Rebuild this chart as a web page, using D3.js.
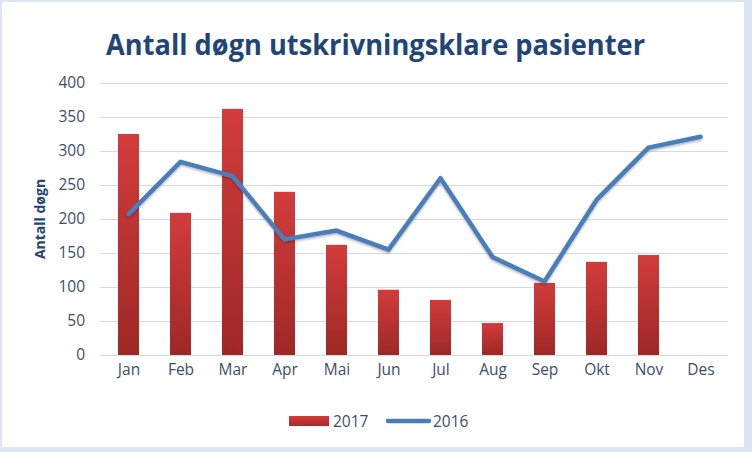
<!DOCTYPE html>
<html><head><meta charset="utf-8">
<script src="https://cdn.jsdelivr.net/npm/d3@7"></script>
<style>
html,body{margin:0;padding:0;background:#dce6f2;}
svg{display:block;}
</style></head>
<body><svg id="c" width="752" height="452"></svg>
<script>
const months = ["Jan","Feb","Mar","Apr","Mai","Jun","Jul","Aug","Sep","Okt","Nov","Des"];
const values2017 = [325,209,362,240,162,96,81,47,106,137,147,null];
const values2016 = [207,284,263,170,183,155,260,144,108,228,305,321];
const yTicks = [0,50,100,150,200,250,300,350,400];
const titleText = "Antall døgn utskrivningsklare pasienter";
const yTitle = "Antall døgn";

const svg = d3.select("#c");
const textCol = "#3a4e6e";
const font = "'Open Sans', 'Noto Sans', sans-serif";

svg.append("rect").attr("x",2).attr("y",2).attr("width",742).attr("height",445).attr("fill","#ffffff");

const defs = svg.append("defs");
const g1 = defs.append("linearGradient").attr("id","barGrad").attr("x1",0).attr("y1",0).attr("x2",0).attr("y2",1);
g1.append("stop").attr("offset","0%").attr("stop-color","#d23c3b");
g1.append("stop").attr("offset","100%").attr("stop-color","#9e2827");
const lg = defs.append("linearGradient").attr("id","legGrad").attr("x1",0).attr("y1",0).attr("x2",0).attr("y2",1);
lg.append("stop").attr("offset","0%").attr("stop-color","#d23c3b");
lg.append("stop").attr("offset","100%").attr("stop-color","#a52a29");
const f = defs.append("filter").attr("id","sh").attr("x","-10%").attr("y","-10%").attr("width","120%").attr("height","130%");
f.append("feDropShadow").attr("dx",0).attr("dy",1.5).attr("stdDeviation",1.2).attr("flood-color","#000").attr("flood-opacity",0.3);

const x = d3.scaleBand().domain(months).range([102.5,726.5]).paddingInner(0.6).paddingOuter(0.3);
const xc = d3.scalePoint().domain(months).range([102.5,726.5]).padding(0.5);
const y = d3.scaleLinear().domain([0,400]).range([355,83]);

// gridlines
svg.append("g").selectAll("line").data(yTicks).join("line")
  .attr("x1",100).attr("x2",728).attr("y1",d=>y(d)+0.5).attr("y2",d=>y(d)+0.5)
  .attr("stroke","#d9d9d9").attr("stroke-width",1);

// y axis labels
const ya = svg.append("g").attr("transform","translate(85,0)")
  .call(d3.axisLeft(y).tickValues(yTicks).tickSize(0).tickPadding(0));
ya.select(".domain").remove();
ya.selectAll("text").attr("font-family",font).attr("font-size",15.5).attr("fill",textCol);

// x axis labels
const xa = svg.append("g").attr("transform","translate(0,364)")
  .call(d3.axisBottom(xc).tickSize(0).tickPadding(0));
xa.select(".domain").remove();
xa.selectAll("text").attr("font-family",font).attr("font-size",15.5).attr("fill",textCol).attr("dy","0.71em");

// bars
svg.append("g").selectAll("rect").data(months.map((m,i)=>({m,v:values2017[i]})).filter(d=>d.v!=null)).join("rect")
  .attr("x",d=>xc(d.m)-10.5).attr("width",21)
  .attr("y",d=>y(d.v)).attr("height",d=>y(0)-y(d.v))
  .attr("fill","url(#barGrad)");

// line
const line = d3.line().x((d,i)=>xc(months[i])).y(d=>y(d));
svg.append("path").datum(values2016).attr("d",line)
  .attr("fill","none").attr("stroke","#4a7ebb").attr("stroke-width",4.5)
  .attr("stroke-linejoin","round").attr("stroke-linecap","round").attr("filter","url(#sh)");

// title
svg.append("text").attr("x",375.5).attr("y",55).attr("text-anchor","middle")
  .attr("font-family",font).attr("font-weight","bold").attr("font-size",28)
  .attr("fill","#1f4677").attr("textLength",539).attr("lengthAdjust","spacingAndGlyphs")
  .text(titleText);

// y title
svg.append("text").attr("transform","translate(45,219) rotate(-90)").attr("text-anchor","middle")
  .attr("font-family",font).attr("font-weight","bold").attr("font-size",14)
  .attr("fill","#1f4677").text(yTitle);

// legend
const leg = svg.append("g");
leg.append("rect").attr("x",289).attr("y",416).attr("width",40).attr("height",10).attr("fill","url(#legGrad)");
leg.append("text").attr("x",333).attr("y",427).attr("font-family",font).attr("font-size",15.5).attr("fill",textCol).text("2017");
leg.append("line").attr("x1",388).attr("x2",429).attr("y1",421).attr("y2",421)
  .attr("stroke","#4a7ebb").attr("stroke-width",4.5).attr("stroke-linecap","round");
leg.append("text").attr("x",433).attr("y",427).attr("font-family",font).attr("font-size",15.5).attr("fill",textCol).text("2016");
</script></body></html>
